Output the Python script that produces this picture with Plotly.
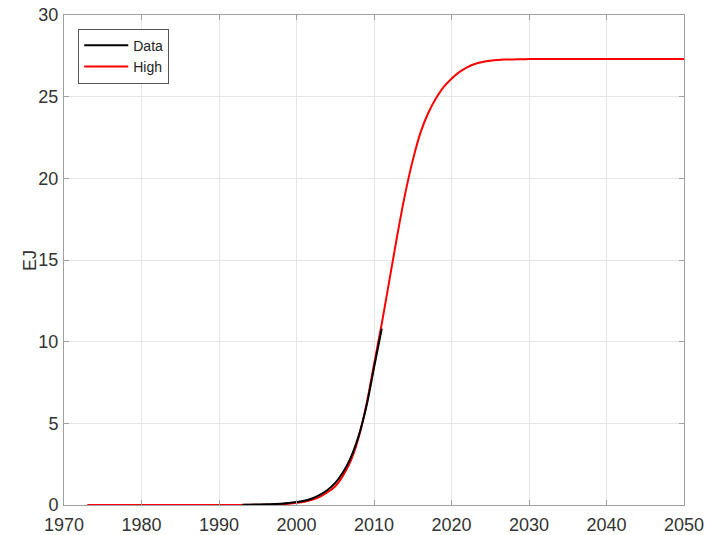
import plotly.graph_objects as go

# Historical data (black)
data_years = list(range(1993, 2012))
data_vals = [0.01, 0.02, 0.03, 0.04, 0.06, 0.08, 0.12, 0.18, 0.26, 0.40,
             0.62, 0.92, 1.35, 2.0, 2.9, 4.2, 6.0, 8.4, 10.8]

# "High" scenario (red)
high_years = list(range(1973, 2051))
high_vals = ([0.0] * 18 +                      # 1973-1990
             [0.002, 0.004, 0.006, 0.01, 0.015, 0.02, 0.03, 0.05, 0.08,   # 1991-1999
              0.13, 0.20, 0.32, 0.50, 0.78, 1.15, 1.8, 2.7, 4.1, 6.1,     # 2000-2009
              8.6, 11.1, 13.8, 16.5, 19.0, 21.1, 22.8, 24.0, 24.9, 25.6,  # 2010-2019
              26.1, 26.5, 26.8, 27.0, 27.12, 27.2, 27.25, 27.27, 27.28, 27.29] +  # 2020-2029
             [27.3] * 21)                      # 2030-2050

x_ticks = [1970, 1980, 1990, 2000, 2010, 2020, 2030, 2040, 2050]
y_ticks = [0, 5, 10, 15, 20, 25, 30]

FONT = "Liberation Sans, Arial, sans-serif"

fig = go.Figure()
fig.add_trace(go.Scatter(x=high_years, y=high_vals, mode="lines", name="High",
                         line=dict(color="#ff0000", width=2, shape="spline"),
                         legendrank=2))
fig.add_trace(go.Scatter(x=data_years, y=data_vals, mode="lines", name="Data",
                         line=dict(color="#000000", width=2, shape="spline"),
                         legendrank=1))

axis_common = dict(
    showgrid=True, gridcolor="#e6e6e6", gridwidth=1,
    showline=True, linecolor="#a0a0a0", linewidth=1, mirror="ticks",
    ticks="inside", ticklen=5, tickcolor="#a0a0a0",
    zeroline=False, automargin=False,
    tickfont=dict(family=FONT, size=18, color="#333333"),
)

fig.update_xaxes(range=[1970, 2050], tickvals=x_ticks, ticklabelstandoff=3, **axis_common)
fig.update_yaxes(range=[0, 30], tickvals=y_ticks, ticklabelstandoff=1, **axis_common)

fig.add_annotation(text="EJ", xref="paper", yref="paper", x=-0.055, y=0.5,
                   xanchor="center", yanchor="middle", textangle=-90, showarrow=False,
                   font=dict(family=FONT, size=18, color="#333333"))

fig.update_layout(
    width=707, height=535,
    margin=dict(l=64, r=23, t=15, b=30),
    paper_bgcolor="white", plot_bgcolor="white",
    showlegend=True,
    legend=dict(x=0.023, y=0.972, xanchor="left", yanchor="top",
                bgcolor="white", bordercolor="#555555", borderwidth=1,
                font=dict(family=FONT, size=14, color="#222222"),
                tracegroupgap=0, itemwidth=44),
)

fig.write_html("out.html")
